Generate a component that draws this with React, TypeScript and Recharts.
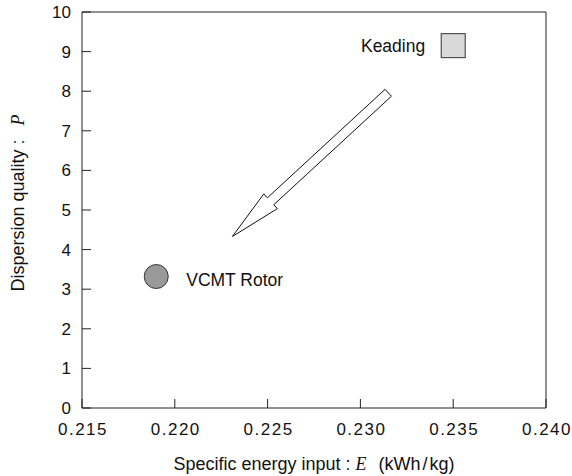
import { ScatterChart, Scatter, XAxis, YAxis, ReferenceLine } from 'recharts';

const labels = ['Keading', 'VCMT Rotor'];
const energy = [0.235, 0.219];
const quality = [9.15, 3.32];
const xTicks = [0.215, 0.22, 0.225, 0.23, 0.235, 0.24];
const yTicks = [0, 1, 2, 3, 4, 5, 6, 7, 8, 9, 10];
// arrow: from upper right to lower left
const arrowFrom = { x: 0.2315, y: 7.96 };
const arrowTo = { x: 0.2231, y: 4.33 };

const points = labels.map((name, i) => ({ name, x: energy[i], y: quality[i] }));

const font = '"Liberation Sans", Arial, sans-serif';
const serif = '"Liberation Serif", serif';
const axisColor = '#222';

const Marker = (props: any) => {
  const { cx, cy, payload } = props;
  if (payload.name === 'Keading') {
    return (
      <g>
        <rect x={cx - 12} y={cy - 12} width={24} height={24} fill="#d9d9d9" stroke="#333" strokeWidth={1} />
        <text x={cx - 28} y={cy + 6} textAnchor="end" fontFamily={font} fontSize={17.5} fill="#111">
          {payload.name}
        </text>
      </g>
    );
  }
  return (
    <g>
      <circle cx={cx} cy={cy} r={12} fill="#999" stroke="#333" strokeWidth={1} />
      <text x={cx + 30} y={cy + 9} fontFamily={font} fontSize={17.5} fill="#111">
        {payload.name}
      </text>
    </g>
  );
};

const Arrow = (props: any) => {
  const { x1, y1, x2, y2 } = props;
  const dx = x2 - x1;
  const dy = y2 - y1;
  const len = Math.sqrt(dx * dx + dy * dy);
  const ux = dx / len;
  const uy = dy / len;
  const px = -uy;
  const py = ux;
  const sw = 4.7;
  const hw = 10;
  const hl = 52;
  const b = len - hl;
  const pt = (u: number, v: number) => `${x1 + ux * u + px * v},${y1 + uy * u + py * v}`;
  const pts = [pt(0, sw), pt(b, sw), pt(b, hw), pt(len, 0), pt(b, -hw), pt(b, -sw), pt(0, -sw)].join(' ');
  return <polygon points={pts} fill="#fff" stroke="#111" strokeWidth={1} />;
};

const XTitle = (props: any) => {
  const { viewBox } = props;
  const cx = viewBox.x + viewBox.width / 2;
  return (
    <text x={cx} y={viewBox.y + 62} textAnchor="middle" fontFamily={font} fontSize={18} fill="#111">
      <tspan>Specific energy input :</tspan>
      <tspan dx={5} fontFamily={serif} fontStyle="italic">E</tspan>
      <tspan dx={12}>(kWh</tspan>
      <tspan dx={2}>/</tspan>
      <tspan dx={2}>kg)</tspan>
    </text>
  );
};

const YTitle = (props: any) => {
  const { viewBox } = props;
  const cy = viewBox.y + viewBox.height / 2 - 7;
  return (
    <text
      x={18}
      y={cy}
      transform={`rotate(-90, 18, ${cy})`}
      textAnchor="middle"
      dominantBaseline="central"
      fontFamily={font}
      fontSize={18}
      fill="#111"
    >
      <tspan>Dispersion quality :</tspan>
      <tspan dx={14} fontFamily={serif} fontStyle="italic">P</tspan>
    </text>
  );
};

export default function App() {
  return (
    <div style={{ position: 'absolute', left: 0, top: 0, background: '#fff' }}>
      <ScatterChart width={572} height={476} margin={{ top: 11, right: 25, bottom: 0, left: 0 }}>
        <XAxis
          xAxisId="bottom"
          type="number"
          dataKey="x"
          domain={[0.215, 0.24]}
          ticks={xTicks}
          tickFormatter={(v: number) => v.toFixed(3)}
          height={68}
          tickSize={-9}
          tickMargin={24}
          stroke={axisColor}
          tick={{ fill: '#111', fontSize: 17, fontFamily: font, letterSpacing: 1.5, dx: 1 }}
          interval={0}
          allowDataOverflow
          label={{ content: XTitle }}
        />
        <XAxis
          xAxisId="top"
          orientation="top"
          type="number"
          dataKey="x"
          domain={[0.215, 0.24]}
          ticks={xTicks}
          height={1}
          tickSize={-9}
          tick={false}
          stroke={axisColor}
          allowDataOverflow
        />
        <YAxis
          yAxisId="left"
          type="number"
          dataKey="y"
          domain={[0, 10]}
          ticks={yTicks}
          width={82}
          tickSize={-9}
          tickMargin={20}
          stroke={axisColor}
          tick={{ fill: '#111', fontSize: 17, fontFamily: font }}
          interval={0}
          allowDataOverflow
          label={{ content: YTitle }}
        />
        <YAxis
          yAxisId="right"
          orientation="right"
          type="number"
          dataKey="y"
          domain={[0, 10]}
          ticks={yTicks}
          width={1}
          tickSize={-9}
          tick={false}
          stroke={axisColor}
          allowDataOverflow
        />
        <ReferenceLine
          xAxisId="bottom"
          yAxisId="left"
          segment={[arrowFrom, arrowTo]}
          shape={Arrow}
        />
        <Scatter
          xAxisId="bottom"
          yAxisId="left"
          data={points}
          shape={Marker}
          isAnimationActive={false}
        />
      </ScatterChart>
    </div>
  );
}
